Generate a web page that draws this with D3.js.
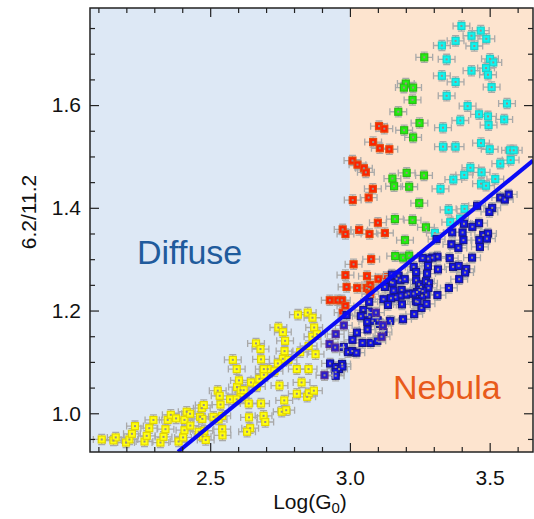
<!DOCTYPE html>
<html>
<head>
<meta charset="utf-8">
<script src="https://cdn.jsdelivr.net/npm/d3@7"></script>
<style>
  body { margin: 0; background: #fff; }
  svg text { font-family: "Liberation Sans", Arial, sans-serif; }
</style>
</head>
<body>
<svg id="chart" width="534" height="519"></svg>
<script>
// ratio 6.2/11.2 vs Log(G0)
const yellowPts = [
  [2.112,0.949],[2.154,0.947],[2.162,0.953],[2.199,0.943],[2.211,0.949],[2.220,0.960],[2.231,0.975],[2.265,0.945],
  [2.273,0.956],[2.282,0.971],[2.297,0.987],[2.322,0.943],[2.333,0.954],[2.340,0.969],[2.348,0.987],[2.359,0.997],
  [2.378,0.990],[2.387,0.945],[2.403,0.953],[2.408,0.987],[2.408,0.967],[2.416,1.003],[2.428,0.999],[2.429,0.976],
  [2.459,0.964],[2.464,0.993],[2.470,1.010],[2.472,0.989],[2.477,1.016],[2.473,0.955],[2.479,0.966],[2.484,0.948],
  [2.512,0.993],[2.527,1.044],[2.534,1.034],[2.537,1.017],[2.530,0.988],[2.543,0.995],[2.543,0.969],[2.544,0.957],
  [2.571,1.027],[2.581,1.104],[2.595,1.086],[2.596,1.051],[2.603,1.064],[2.609,1.045],[2.609,1.031],[2.620,1.045],
  [2.595,1.027],[2.638,1.019],[2.639,0.992],[2.643,0.971],[2.632,0.964],[2.646,1.060],[2.664,1.136],[2.680,1.125],
  [2.682,1.105],[2.682,1.019],[2.667,1.052],[2.676,1.067],[2.692,1.075],[2.691,0.995],[2.697,0.983],[2.706,1.086],
  [2.692,1.086],[2.730,1.082],[2.744,1.167],[2.760,1.158],[2.768,1.141],[2.766,1.121],[2.760,1.106],[2.742,1.097],
  [2.748,1.054],[2.765,1.025],[2.756,1.003],[2.772,1.006],[2.780,1.104],[2.810,1.086],[2.814,1.192],[2.849,1.196],
  [2.866,1.186],[2.872,1.167],[2.866,1.149],[2.882,1.154],[2.877,1.115],[2.852,1.086],[2.827,1.060],[2.810,1.038],
  [2.847,1.032],[2.853,1.039],[2.871,1.044],[2.852,1.131],[2.822,1.119]
];
const redPts = [
  [3.104,1.559],[3.123,1.554],[3.083,1.528],[3.107,1.516],[3.141,1.514],[3.009,1.492],[3.027,1.484],[3.050,1.477],
  [3.057,1.469],[3.082,1.437],[3.067,1.420],[3.010,1.415],[2.974,1.358],[3.033,1.357],[2.984,1.349],[3.070,1.349],
  [3.125,1.351],[3.100,1.371],[3.076,1.300],[3.013,1.290],[2.984,1.269],[3.061,1.267],[3.102,1.261],[3.131,1.265],
  [2.988,1.246],[3.026,1.244],[3.060,1.244],[3.073,1.250],[3.068,1.242],[3.073,1.232],[2.928,1.220],[2.956,1.220],
  [2.971,1.220],[2.984,1.209],[2.974,1.196]
];
const greenPts = [
  [3.266,1.693],[3.200,1.642],[3.193,1.634],[3.226,1.634],[3.224,1.610],[3.173,1.587],[3.249,1.565],[3.194,1.551],
  [3.226,1.537],[3.152,1.457],[3.203,1.468],[3.265,1.463],[3.158,1.442],[3.212,1.441],[3.248,1.409],[3.161,1.378],
  [3.224,1.376],[3.272,1.362],[3.197,1.337],[3.162,1.306],[3.190,1.303],[3.212,1.307]
];
const cyanPts = [
  [3.399,1.754],[3.435,1.735],[3.468,1.745],[3.488,1.729],[3.445,1.715],[3.378,1.725],[3.329,1.716],[3.346,1.689],
  [3.501,1.690],[3.513,1.683],[3.487,1.672],[3.494,1.659],[3.435,1.667],[3.329,1.657],[3.378,1.645],[3.507,1.635],
  [3.346,1.618],[3.421,1.598],[3.462,1.582],[3.494,1.578],[3.496,1.561],[3.395,1.570],[3.333,1.556],[3.562,1.603],
  [3.552,1.572],[3.469,1.526],[3.500,1.514],[3.333,1.519],[3.378,1.519],[3.573,1.512],[3.586,1.512],[3.575,1.493],
  [3.538,1.486],[3.431,1.478],[3.409,1.464],[3.471,1.469],[3.370,1.455],[3.324,1.437],[3.520,1.456],[3.469,1.447],
  [3.487,1.443],[3.353,1.396],[3.410,1.398],[3.359,1.372],[3.394,1.379],[3.304,1.351]
];
const bluePts = [
  [3.538,1.420],[3.554,1.416],[3.568,1.426],[3.509,1.400],[3.499,1.392],[3.455,1.404],[3.408,1.369],[3.438,1.363],
  [3.462,1.370],[3.366,1.352],[3.403,1.352],[3.477,1.347],[3.494,1.350],[3.310,1.339],[3.363,1.329],[3.388,1.322],
  [3.406,1.337],[3.463,1.337],[3.490,1.340],[3.465,1.324],[3.437,1.303],[3.357,1.302],[3.313,1.305],[3.295,1.303],
  [3.280,1.301],[3.260,1.302],[3.228,1.285],[3.237,1.275],[3.279,1.287],[3.276,1.272],[3.315,1.280],[3.369,1.285],
  [3.389,1.287],[3.416,1.281],[3.412,1.274],[3.174,1.268],[3.150,1.270],[3.391,1.261],[3.354,1.244],[3.237,1.259],
  [3.247,1.251],[3.254,1.246],[3.272,1.257],[3.283,1.253],[3.281,1.244],[3.167,1.262],[3.180,1.259],[3.196,1.261],
  [3.147,1.255],[3.125,1.246],[3.153,1.254],[3.313,1.230],[3.273,1.231],[3.258,1.229],[3.260,1.238],[3.249,1.240],
  [3.240,1.236],[3.227,1.233],[3.210,1.233],[3.200,1.231],[3.185,1.240],[3.181,1.229],[3.156,1.239],[3.163,1.226],
  [3.147,1.224],[3.120,1.222],[3.136,1.211],[3.186,1.212],[3.236,1.218],[3.242,1.217],[3.256,1.205],[3.274,1.213],
  [3.069,1.217],[3.230,1.193],[3.190,1.183],[3.144,1.180],[3.067,1.198],[3.048,1.201],[3.056,1.191],[3.070,1.188],
  [3.081,1.180],[3.099,1.181],[3.108,1.174],[3.062,1.178],[3.039,1.189],[2.988,1.191],[3.063,1.163],[3.025,1.157],
  [3.009,1.143],[3.045,1.137],[3.074,1.137],[3.098,1.141],[3.120,1.158],[2.978,1.129],[2.993,1.119],[3.008,1.121],
  [3.023,1.118],[2.929,1.097],[2.949,1.090],[2.972,1.096],[2.961,1.086],[2.949,1.080],[2.949,1.073],[2.973,1.091]
];
const indigoPts = [
  [2.978,1.171],[2.949,1.154],[2.927,1.135],[2.947,1.128],[2.909,1.074],[3.118,1.171],[3.113,1.149],[3.093,1.196]
];
// linear fit
const fitX = [2.385, 3.655];
const fitY = [0.925, 1.492];
const xErr = 0.03, yErr = 0.01;

const xMajor = [2.5, 3.0, 3.5];
const yMajor = [1.0, 1.2, 1.4, 1.6];

const L = 90, R = 533, T = 8, B = 452;
const svg = d3.select("#chart");

const x = d3.scaleLinear().domain([2.07, 3.655]).range([L, R]);
const y = d3.scaleLinear().domain([0.9246, 1.789]).range([B, T]);

svg.append("clipPath").attr("id", "clip")
  .append("rect").attr("x", L).attr("y", T).attr("width", R - L).attr("height", B - T);

// background regions
svg.append("rect").attr("x", L).attr("y", T).attr("width", x(3.0) - L).attr("height", B - T)
  .attr("fill", "#dde8f5");
svg.append("rect").attr("x", x(3.0)).attr("y", T).attr("width", R - x(3.0)).attr("height", B - T)
  .attr("fill", "#fde4cf");

svg.append("text").attr("x", 137).attr("y", 264).attr("font-size", 34)
  .attr("fill", "#1f5b9c").text("Diffuse");
svg.append("text").attr("x", 393).attr("y", 399).attr("font-size", 34)
  .attr("fill", "#e85a1a").text("Nebula");

const groups = [
  { pts: yellowPts, fill: "#ffff10", stroke: "#e2d600" },
  { pts: redPts, fill: "#ff2200", stroke: "#e34a10" },
  { pts: greenPts, fill: "#22ee10", stroke: "#2cb818" },
  { pts: cyanPts, fill: "#10f4f0", stroke: "#22cfc8" },
  { pts: bluePts, fill: "#1414e6", stroke: "#16168a" },
  { pts: indigoPts, fill: "#2a1cd0", stroke: "#5a3090" }
];

const plot = svg.append("g").attr("clip-path", "url(#clip)");

groups.forEach(g => {
  const eb = plot.append("g").attr("stroke", "#a9a9a9").attr("stroke-width", 1.3).attr("fill", "none");
  g.pts.forEach(([px, py]) => {
    const cx = x(px), cy = y(py);
    const x0 = x(px - xErr), x1 = x(px + xErr);
    const y0 = y(py - yErr), y1 = y(py + yErr);
    eb.append("path").attr("d",
      `M${x0},${cy}H${x1}M${x0},${cy - 3.5}V${cy + 3.5}M${x1},${cy - 3.5}V${cy + 3.5}` +
      `M${cx},${y0}V${y1}M${cx - 3.5},${y0}H${cx + 3.5}M${cx - 3.5},${y1}H${cx + 3.5}`);
  });
  plot.append("g").selectAll("rect").data(g.pts).join("rect")
    .attr("x", d => x(d[0]) - 3.5).attr("y", d => y(d[1]) - 3.5)
    .attr("width", 7).attr("height", 7)
    .attr("fill", g.fill).attr("stroke", g.stroke).attr("stroke-width", 1.2);
  plot.append("g").selectAll("rect").data(g.pts).join("rect")
    .attr("x", d => x(d[0]) - 1).attr("y", d => y(d[1]) - 1)
    .attr("width", 2).attr("height", 2).attr("fill", "#9a8f86");
});

plot.append("line")
  .attr("x1", x(fitX[0])).attr("y1", y(fitY[0]))
  .attr("x2", x(fitX[1])).attr("y2", y(fitY[1]))
  .attr("stroke", "#0a0af5").attr("stroke-width", 4);

// axes, ticks pointing inward on all four sides
const xMinor = d3.range(21, 37).map(d => d / 10).filter(d => !xMajor.includes(d));
const yMinor = d3.range(19, 36).map(d => d / 20).filter(d => !yMajor.some(m => Math.abs(m - d) < 1e-9));

function styleAxis(g) {
  g.select(".domain").remove();
  g.selectAll("line").attr("stroke", "#222").attr("stroke-width", 1.2);
  g.selectAll("text").attr("font-size", 21).attr("fill", "#111")
    .attr("font-family", "'Liberation Sans', Arial, sans-serif");
}

svg.append("g").attr("transform", `translate(0,${B})`)
  .call(d3.axisBottom(x).tickValues(xMajor).tickSize(-9).tickPadding(18).tickFormat(d3.format(".1f")))
  .call(styleAxis);
svg.append("g").attr("transform", `translate(0,${B})`)
  .call(d3.axisBottom(x).tickValues(xMinor).tickSize(-5).tickFormat(""))
  .call(styleAxis);
svg.append("g").attr("transform", `translate(0,${T})`)
  .call(d3.axisTop(x).tickValues(xMajor).tickSize(-9).tickFormat(""))
  .call(styleAxis);
svg.append("g").attr("transform", `translate(0,${T})`)
  .call(d3.axisTop(x).tickValues(xMinor).tickSize(-5).tickFormat(""))
  .call(styleAxis);

svg.append("g").attr("transform", `translate(${L},0)`)
  .call(d3.axisLeft(y).tickValues(yMajor).tickSize(-9).tickPadding(9).tickFormat(d3.format(".1f")))
  .call(styleAxis);
svg.append("g").attr("transform", `translate(${L},0)`)
  .call(d3.axisLeft(y).tickValues(yMinor).tickSize(-5).tickFormat(""))
  .call(styleAxis);
svg.append("g").attr("transform", `translate(${R},0)`)
  .call(d3.axisRight(y).tickValues(yMajor).tickSize(-9).tickFormat(""))
  .call(styleAxis);
svg.append("g").attr("transform", `translate(${R},0)`)
  .call(d3.axisRight(y).tickValues(yMinor).tickSize(-5).tickFormat(""))
  .call(styleAxis);

svg.append("rect").attr("x", L).attr("y", T).attr("width", R - L).attr("height", B - T)
  .attr("fill", "none").attr("stroke", "#222").attr("stroke-width", 1.5);

// axis titles
const xt = svg.append("text").attr("x", 310).attr("y", 509).attr("text-anchor", "middle")
  .attr("font-size", 21).attr("fill", "#111");
xt.append("tspan").text("Log(G");
xt.append("tspan").attr("font-size", 15).attr("dy", 4).text("0");
xt.append("tspan").attr("dy", -4).text(")");

svg.append("text").attr("transform", "translate(36,212) rotate(-90)")
  .attr("text-anchor", "middle").attr("font-size", 21).attr("fill", "#111")
  .text("6.2/11.2");
</script>
</body>
</html>
